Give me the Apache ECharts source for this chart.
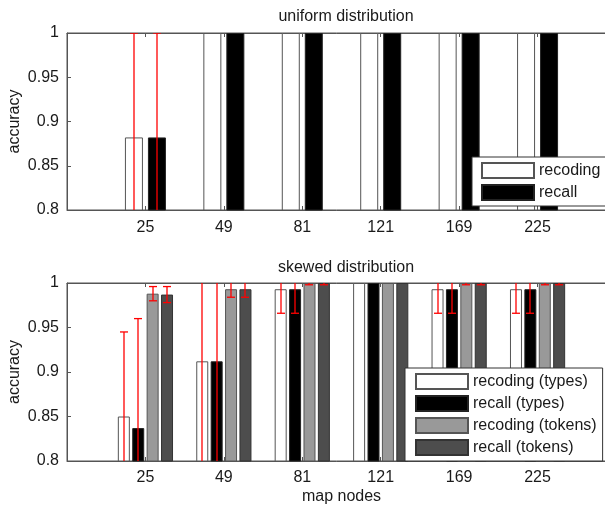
<!DOCTYPE html>
<html>
<head>
<meta charset="utf-8">
<script src="https://cdn.jsdelivr.net/npm/echarts@6/dist/echarts.min.js"></script>
<style>
html,body{margin:0;padding:0;background:#fff;}
#chart{width:605px;height:508px;}
</style>
</head>
<body>
<div id="chart"></div>
<script>
// ---- data ----
const categories = ['25', '49', '81', '121', '169', '225'];
const yTicks = [0.8, 0.85, 0.9, 0.95, 1];

const uniformNames = ['recoding', 'recall'];
const uniformRecoding = [0.882, 1, 1, 1, 1, 1];
const uniformRecall = [0.882, 1, 1, 1, 1, 1];
const uniformRecodingErr = [0.118, 0, 0, 0, 0, 0];
const uniformRecallErr = [0.118, 0, 0, 0, 0, 0];

const skewedNames = ['recoding (types)', 'recall (types)', 'recoding (tokens)', 'recall (tokens)'];
const skewedRecodingTypes = [0.850, 0.912, 0.993, 1, 0.993, 0.993];
const skewedRecallTypes = [0.837, 0.912, 0.993, 1, 0.993, 0.993];
const skewedRecodingTokens = [0.988, 0.993, 1, 1, 1, 1];
const skewedRecallTokens = [0.987, 0.993, 1, 1, 1, 1];
const skewedRecodingTypesErr = [0.095, 0.13, 0.027, 0, 0.027, 0.027];
const skewedRecallTypesErr = [0.123, 0.13, 0.027, 0, 0.027, 0.027];
const skewedRecodingTokensErr = [0.008, 0.009, 0.002, 0, 0.002, 0.002];
const skewedRecallTokensErr = [0.009, 0.009, 0.002, 0, 0.002, 0.002];

// ---- styling ----
const FONT = 'Liberation Sans, Arial, sans-serif';
const TXT = '#1a1a1a';
const AX = '#555';
const axisData = [''].concat(categories, ['']);   // padded ends so the axis spans 0..7

function padded(arr) { return [null].concat(arr, [null]); }

const TOP_W = 18, TOP_G = 5;
const BOT_W = 12, BOT_G = 2.4;

function errSeries(name, vals, errs, n, i, w, g, axisIdx, yIdx) {
  const data = vals.map((v, k) => [k + 1, v, errs[k]]);
  return {
    type: 'custom',
    name: name + ' err',
    xAxisIndex: axisIdx,
    yAxisIndex: yIdx,
    clip: true,
    z: 5,
    silent: true,
    encode: { x: 0, y: 1 },
    data: data,
    renderItem: function (params, api) {
      const xi = api.value(0), v = api.value(1), e = api.value(2);
      if (!e) return null;
      const c = api.coord([xi, v]);
      const off = -(n * w + (n - 1) * g) / 2 + i * (w + g) + w / 2;
      const x = Math.round(c[0] + off);
      const yt = api.coord([xi, v + e])[1];
      const yb = api.coord([xi, v - e])[1];
      const cw = 4;
      const st = { stroke: '#ff0000', lineWidth: 1.3, fill: null };
      return {
        type: 'group',
        children: [
          { type: 'line', shape: { x1: x, y1: yt, x2: x, y2: yb }, style: st },
          { type: 'line', shape: { x1: x - cw, y1: yt, x2: x + cw, y2: yt }, style: st },
          { type: 'line', shape: { x1: x - cw, y1: yb, x2: x + cw, y2: yb }, style: st }
        ]
      };
    }
  };
}

function barSeries(name, vals, color, border, w, g, xIdx, yIdx) {
  return {
    type: 'bar',
    name: name,
    xAxisIndex: xIdx,
    yAxisIndex: yIdx,
    data: padded(vals),
    barWidth: w,
    barGap: (g / w * 100) + '%',
    itemStyle: { color: color, borderColor: border, borderWidth: 1 },
    emphasis: { disabled: true },
    z: 2
  };
}

const grids = [
  { left: 67, right: -11, top: 33, bottom: 298, show: true, borderColor: AX, borderWidth: 1, backgroundColor: '#fff', containLabel: false, outerBoundsMode: 'none' },
  { left: 67, right: -11, top: 283, bottom: 47, show: true, borderColor: AX, borderWidth: 1, backgroundColor: '#fff', containLabel: false, outerBoundsMode: 'none' }
];

function xAxisBottom(gridIndex, name, margin) {
  return {
    type: 'category', gridIndex: gridIndex, data: axisData, boundaryGap: false, position: 'bottom',
    name: name || '', nameLocation: 'middle', nameGap: 28,
    nameTextStyle: { fontFamily: FONT, fontSize: 16, color: TXT },
    axisLine: { show: true, lineStyle: { color: AX } },
    axisTick: { show: true, inside: true, length: 4, lineStyle: { color: AX }, interval: function (i) { return i > 0 && i < axisData.length - 1; } },
    axisLabel: { interval: 0, margin: margin, fontFamily: FONT, fontSize: 16, color: TXT },
    splitLine: { show: false }
  };
}
function xAxisTop(gridIndex) {
  return {
    type: 'category', gridIndex: gridIndex, data: axisData, boundaryGap: false, position: 'top',
    axisLine: { show: true, lineStyle: { color: AX } },
    axisTick: { show: true, inside: true, length: 4, lineStyle: { color: AX }, interval: function (i) { return i > 0 && i < axisData.length - 1; } },
    axisLabel: { show: false },
    splitLine: { show: false }
  };
}
function yAxisLeft(gridIndex) {
  return {
    type: 'value', gridIndex: gridIndex, min: yTicks[0], max: yTicks[yTicks.length - 1], interval: 0.05,
    name: 'accuracy', nameLocation: 'middle', nameGap: 44, nameRotate: 90, nameMoveOverlap: false,
    nameTextStyle: { fontFamily: FONT, fontSize: 16, color: TXT },
    axisLine: { show: true, lineStyle: { color: AX } },
    axisTick: { show: true, inside: true, length: 4, lineStyle: { color: AX } },
    axisLabel: { margin: 8, fontFamily: FONT, fontSize: 16, color: TXT },
    splitLine: { show: false }
  };
}

const series = [
  barSeries(uniformNames[0], uniformRecoding, '#ffffff', '#555', TOP_W, TOP_G, 0, 0),
  barSeries(uniformNames[1], uniformRecall, '#000000', '#222', TOP_W, TOP_G, 0, 0),
  errSeries(uniformNames[0], uniformRecoding, uniformRecodingErr, 2, 0, TOP_W, TOP_G, 0, 0),
  errSeries(uniformNames[1], uniformRecall, uniformRecallErr, 2, 1, TOP_W, TOP_G, 0, 0),

  barSeries(skewedNames[0], skewedRecodingTypes, '#ffffff', '#555', BOT_W, BOT_G, 2, 1),
  barSeries(skewedNames[1], skewedRecallTypes, '#000000', '#222', BOT_W, BOT_G, 2, 1),
  barSeries(skewedNames[2], skewedRecodingTokens, '#999999', '#555', BOT_W, BOT_G, 2, 1),
  barSeries(skewedNames[3], skewedRecallTokens, '#4d4d4d', '#333', BOT_W, BOT_G, 2, 1),
  errSeries(skewedNames[0], skewedRecodingTypes, skewedRecodingTypesErr, 4, 0, BOT_W, BOT_G, 2, 1),
  errSeries(skewedNames[1], skewedRecallTypes, skewedRecallTypesErr, 4, 1, BOT_W, BOT_G, 2, 1),
  errSeries(skewedNames[2], skewedRecodingTokens, skewedRecodingTokensErr, 4, 2, BOT_W, BOT_G, 2, 1),
  errSeries(skewedNames[3], skewedRecallTokens, skewedRecallTokensErr, 4, 3, BOT_W, BOT_G, 2, 1)
];

const legendCommon = {
  orient: 'vertical', itemWidth: 52, itemHeight: 15, itemGap: 5, icon: 'rect',
  backgroundColor: '#fff', borderColor: '#333', borderWidth: 1, borderRadius: 0,
  textStyle: { fontFamily: FONT, fontSize: 16, color: TXT, padding: [0, 0, 0, 0] },
  selectedMode: false, z: 10
};

const option = {
  animation: false,
  backgroundColor: '#fff',
  title: [
    { text: 'uniform distribution', left: 341, top: 4, textAlign: 'center',
      textStyle: { fontFamily: FONT, fontSize: 16, fontWeight: 'normal', color: TXT } },
    { text: 'skewed distribution', left: 341, top: 255, textAlign: 'center',
      textStyle: { fontFamily: FONT, fontSize: 16, fontWeight: 'normal', color: TXT } }
  ],
  grid: grids,
  xAxis: [xAxisBottom(0, '', 10), xAxisTop(0), xAxisBottom(1, 'map nodes', 9), xAxisTop(1)],
  yAxis: [yAxisLeft(0), yAxisLeft(1)],
  legend: [
    Object.assign({}, legendCommon, { data: uniformNames, left: 472, top: 157, padding: [5, 8, 5, 9] }),
    Object.assign({}, legendCommon, { data: skewedNames, left: 405, top: 368, padding: [5, 6, 5, 10] })
  ],
  series: series
};

const chart = echarts.init(document.getElementById('chart'), null, { renderer: 'canvas' });
chart.setOption(option);
</script>
</body>
</html>
